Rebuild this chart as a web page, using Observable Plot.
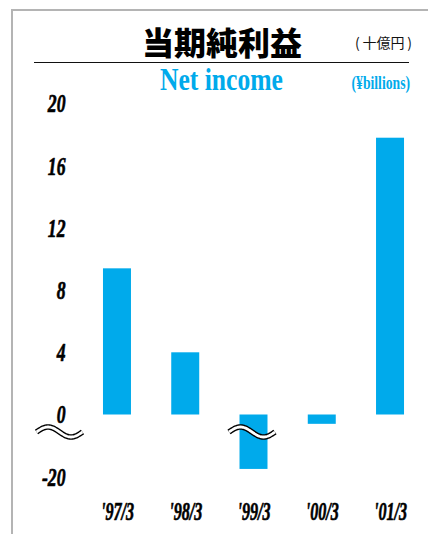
<!DOCTYPE html>
<html><head><meta charset="utf-8">
<script src="https://cdn.jsdelivr.net/npm/d3@7"></script>
<script src="https://cdn.jsdelivr.net/npm/@observablehq/plot@0.6"></script>
<style>
html,body{margin:0;padding:0;background:#fff;}
#wrap{position:relative;width:428px;height:534px;overflow:hidden;background:#fff;}
#frame{position:absolute;left:11px;top:9px;width:440px;height:560px;border-left:2px solid #b4b4b4;border-top:2px solid #b4b4b4;}
.t{position:absolute;white-space:nowrap;}
#title{left:142px;top:25px;font:900 32px/32px "Noto Sans CJK JP";color:#000;}
#unitJa{right:16px;top:34px;font:400 14px/16px "Noto Sans CJK JP";color:#111;}
#rule{position:absolute;left:34px;top:61.5px;width:375px;height:1.5px;background:#111;}
#sub{left:160px;top:63.5px;font:700 31px/31px "Liberation Serif";color:#00aaeb;transform:scaleX(0.825);transform-origin:left top;}
#unitEn{right:18px;top:74px;font:700 18px/18px "Liberation Serif";color:#00aaeb;transform:scaleX(0.76);transform-origin:right top;}
#chart{position:absolute;left:0;top:90px;}
</style></head><body>
<div id="wrap">
 <div id="frame"></div>
 <div class="t" id="title">当期純利益</div>
 <div class="t" id="unitJa">(&#8201;十億円&#8201;)</div>
 <div id="rule"></div>
 <div class="t" id="sub">Net income</div>
 <div class="t" id="unitEn">(¥billions)</div>
 <div id="chart"></div>
</div>
<script>
const periods = ["'97/3", "'98/3", "'99/3", "'00/3", "'01/3"];
const netIncome = [9.4, 4.0, -19.5, -0.6, 17.8];
const yTicks = [20, 16, 12, 8, 4, 0, -20];

const data = periods.map((p, i) => ({period: p, value: netIncome[i]}));
// broken axis: values far below zero are shifted up
const breakFn = v => v < -5 ? v + 16 : v;
const CYAN = "#00aaeb";
const labelFont = {fontSize: 26, fontFamily: "Liberation Serif", fontWeight: "bold", fontStyle: "italic", fill: "#000", stroke: "#000", strokeWidth: 0.7};

const chart = Plot.plot({
  width: 428, height: 444,
  marginLeft: 82.5, marginRight: 3.5, marginTop: 13.5, marginBottom: 41.75,
  style: {background: "transparent", overflow: "visible"},
  x: {domain: periods, paddingInner: 0.59, paddingOuter: 0.3, round: false, axis: null},
  y: {domain: [-5, 20], transform: breakFn, axis: null},
  marks: [
    Plot.barY(data, {x: "period", y: "value", fill: CYAN}),
    Plot.text(yTicks, {y: d => d, text: d => String(d), frameAnchor: "left", textAnchor: "end", dx: -17.5, ...labelFont}),
    Plot.text(periods, {x: d => d, text: d => d, frameAnchor: "bottom", lineAnchor: "top", dy: 9.25, ...labelFont})
  ]
});
document.getElementById("chart").append(chart);

const svg = d3.select(chart);
// condensed look for the numeric labels
svg.selectAll("text").each(function() {
  const s = this.textContent;
  const k = periods.includes(s) ? 0.62 : 0.68;
  const L = this.getComputedTextLength();
  this.setAttribute("textLength", (L * k).toFixed(2));
  this.setAttribute("lengthAdjust", "spacingAndGlyphs");
});

// break symbols
const xs = chart.scale("x"), ys = chart.scale("y");
const y0 = ys.apply(0);
const cy = y0 + 17.5;
function wave(x0, w) {
  const pts = d3.range(0, 1.0001, 0.02).map(t => [x0 + t * w, cy - 5 * Math.sin(2 * Math.PI * t)]);
  const line = d3.line()(pts);
  svg.append("path").attr("d", line).attr("fill", "none").attr("stroke", "#000").attr("stroke-width", 5.5);
  svg.append("path").attr("d", line).attr("fill", "none").attr("stroke", "#fff").attr("stroke-width", 2.8);
}
wave(xs.range[0] - 46, 46);
wave(xs.apply("'99/3") + xs.bandwidth / 2 - 24.5, 46);
</script>
</body></html>
